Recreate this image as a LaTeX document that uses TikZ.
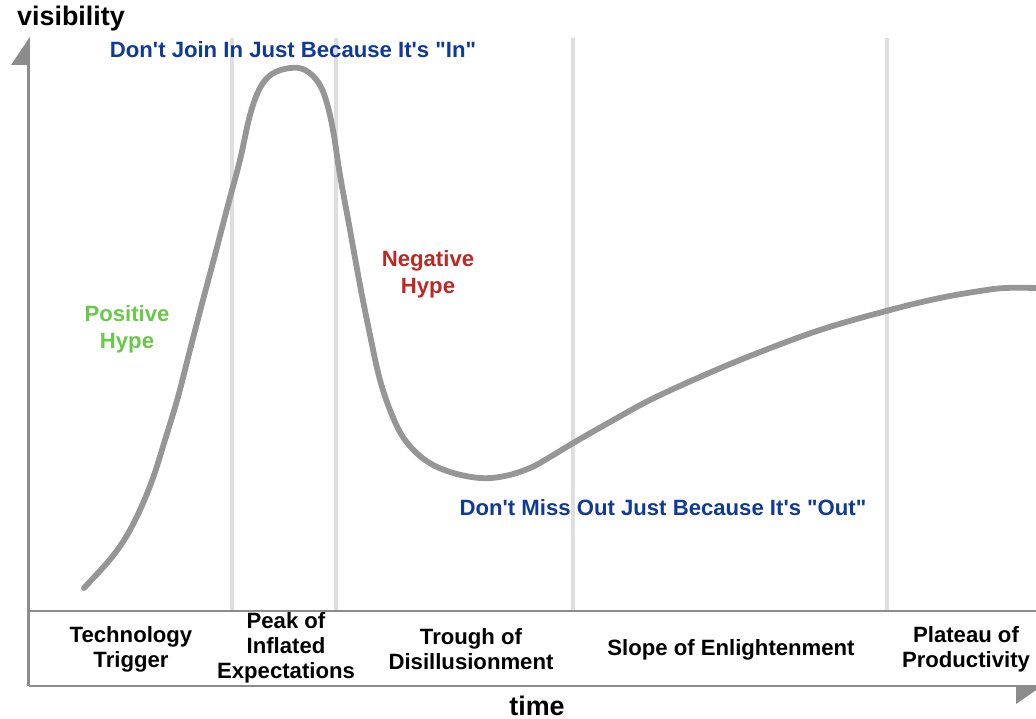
\documentclass[tikz,border=0pt]{standalone}
\usepackage{fontspec}
\setmainfont{Liberation Sans}
\definecolor{hypeblue}{RGB}{16,58,152}
\definecolor{hypegreen}{RGB}{104,200,72}
\definecolor{hypered}{RGB}{190,40,36}
\definecolor{axisgray}{RGB}{140,140,140}
\definecolor{curvegray}{RGB}{150,150,150}
\definecolor{gridgray}{RGB}{222,222,222}
\newcommand{\sq}{\textquotesingle}
\newcommand{\dq}{\textquotedbl}
\tikzset{
	lbl/.style={font=\bfseries\fontsize{12.6}{14.2}\selectfont, align=center, inner sep=0pt},
	hypelbl/.style={font=\bfseries\fontsize{12.6}{15.2}\selectfont, align=center, inner sep=0pt},
	axlbl/.style={font=\bfseries\fontsize{15.3}{17}\selectfont, inner sep=0pt}
}

\begin{document}
\begin{tikzpicture}[x=0.02cm, y=-0.02cm]

	\useasboundingbox (0,0) rectangle (1036,719);

	\draw[gridgray, line width=2pt] (232,38) -- (232,611);
	\draw[gridgray, line width=2pt] (336,38) -- (336,611);
	\draw[gridgray, line width=2pt] (573,38) -- (573,611);
	\draw[gridgray, line width=2pt] (887,38) -- (887,611);

	\draw[axisgray, line width=1.4pt] (28.5,686) -- (28.5,50);
	\draw[axisgray, line width=1.4pt] (28.5,686) -- (1036,686);
	\draw[axisgray, line width=1.4pt] (28.5,611) -- (1036,611);
	\fill[axisgray] (29.8,37) -- (29.8,65) -- (11,65) -- cycle;
	\fill[axisgray] (1016,686) -- (1016,704) -- (1042,686) -- cycle;

	\draw[curvegray, line width=3.3pt, line cap=round, line join=round] plot[smooth, tension=0.6] coordinates {
		(84,588) (98,573) (112,557) (126,537) (140,510) (153,478) (165,440)
		(178,397) (190,350) (203,300) (215,255) (228,205) (240,160) (250,115)
		(260,88) (272,74) (290,68) (305,70) (318,82) (326,100) (333,130)
		(340,175) (350,230) (360,285) (370,335) (380,380) (392,415) (405,440)
		(425,460) (450,472) (480,478) (505,476) (530,468) (550,457) (575,442)
		(610,422) (650,400) (700,377) (750,356) (820,330) (890,310) (940,298)
		(980,291) (1005,288) (1036,288)};

	\node[axlbl] (visib) at (71,19) {visibility};
	\node[axlbl] (timelbl) at (537,706) {time};

	\node[lbl, hypeblue] (joinin) at (293,50) {Don\sq t Join In Just Because It\sq s \dq In\dq};
	\node[lbl, hypeblue] (missout) at (663,508) {Don\sq t Miss Out Just Because It\sq s \dq Out\dq};
	\node[hypelbl, hypegreen] (poshype) at (127,329) {Positive\\Hype};
	\node[hypelbl, hypered] (neghype) at (428,274) {Negative\\Hype};

	\node[lbl] (trigger) at (131,649) {Technology\\Trigger};
	\node[lbl] (peak) at (286,648) {Peak of\\Inflated\\Expectations};
	\node[lbl] (trough) at (471,649) {Trough of\\Disillusionment};
	\node[lbl] (slope) at (731,650) {Slope of Enlightenment};
	\node[lbl] (plateau) at (966,649) {Plateau of\\Productivity};

\end{tikzpicture}
\end{document}
